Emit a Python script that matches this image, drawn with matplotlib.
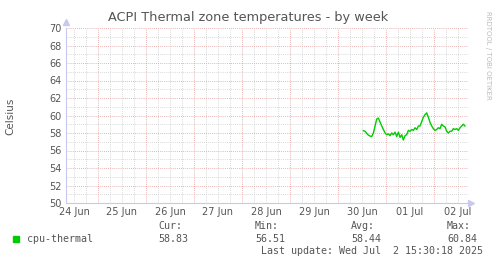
import numpy as np
import matplotlib
matplotlib.use("Agg")
from matplotlib import pyplot as plt

W, H = 497, 264

# hours since 24 Jun 00:00
x_min, x_max = 8, 209
y_min, y_max = 50, 70
day_labels = ['24 Jun', '25 Jun', '26 Jun', '27 Jun', '28 Jun', '29 Jun', '30 Jun', '01 Jul', '02 Jul']
y_ticks = [50, 52, 54, 56, 58, 60, 62, 64, 66, 68, 70]

temps = [58.27, 58.2, 57.95, 57.75, 57.65, 57.6, 58.0, 58.8, 59.6, 59.7,
         59.25, 58.8, 58.4, 58.0, 57.8, 57.9, 57.7, 58.0, 57.8, 58.1,
         57.6, 58.1, 57.5, 57.8, 57.2, 57.7, 57.8, 58.3, 58.2, 58.4,
         58.3, 58.6, 58.4, 58.8, 58.8, 59.3, 59.8, 60.1, 60.3, 59.8,
         59.2, 58.8, 58.5, 58.3, 58.4, 58.6, 58.5, 59.0, 58.8, 58.7,
         58.2, 58.0, 58.2, 58.2, 58.5, 58.4, 58.5, 58.3, 58.6, 58.8,
         59.0, 58.8]
hours = np.linspace(156.7, 207.5, len(temps))

legend_name = 'cpu-thermal'
stats = [('Cur:', '58.83'), ('Min:', '56.51'), ('Avg:', '58.44'), ('Max:', '60.84')]
last_update = 'Last update: Wed Jul  2 15:30:18 2025'

text_col = '#555555'
axis_col = '#c8c8f0'

fig = plt.figure(figsize=(W / 100, H / 100), dpi=100)
fig.patch.set_facecolor('white')
ax = fig.add_axes([66 / W, (H - 203) / H, (468 - 66) / W, (203 - 28) / H])
ax.set_xlim(x_min, x_max)
ax.set_ylim(y_min, y_max)

# grid: 6h minor, 24h major; 1 unit minor, 2 units major
for h in range(12, x_max, 6):
    major = h % 24 == 0
    ax.axvline(h, color='#e39a9a' if major else '#cccccc', lw=0.6,
               ls=(0, (1, 1.5)), zorder=1 if major else 0)
for v in range(y_min + 1, y_max + 1):
    major = v % 2 == 0
    ax.axhline(v, color='#e39a9a' if major else '#cccccc', lw=0.6,
               ls=(0, (1, 1.5)), zorder=1 if major else 0)

ax.plot(hours, temps, color='#00cc00', lw=1.0, zorder=3)

for s in ['top', 'right']:
    ax.spines[s].set_visible(False)
for s in ['left', 'bottom']:
    ax.spines[s].set_color(axis_col)
    ax.spines[s].set_linewidth(0.8)

ax.set_yticks(y_ticks)
ax.set_yticklabels([str(t) for t in y_ticks])
ax.set_xticks([12 + 24 * i for i in range(len(day_labels))])
ax.set_xticklabels(day_labels)
ax.tick_params(length=0, labelsize=7, colors=text_col, pad=3)

# axis arrows
ax.plot([x_min], [y_max + 0.7], marker='^', color=axis_col, ms=4, clip_on=False)
ax.plot([x_max + 1.5], [y_min], marker='>', color=axis_col, ms=4, clip_on=False)

fig.text(248 / W, 1 - 18 / H, 'ACPI Thermal zone temperatures - by week',
         ha='center', va='center', fontsize=9.3, color=text_col)
fig.text(10 / W, 1 - 116 / H, 'Celsius', rotation=90, ha='center', va='center',
         fontsize=7.5, color=text_col)
fig.text(488 / W, 1 - 55 / H, 'RRDTOOL / TOBI OETIKER', rotation=270, ha='center',
         va='center', fontsize=5, color='#bbbbbb')

mono = 'DejaVu Sans Mono'
fig.patches.append(plt.Rectangle((13 / W, 1 - 242 / H), 6 / W, 6 / H,
                                 transform=fig.transFigure, color='#00cc00'))
fig.text(27 / W, 1 - 239 / H, legend_name, family=mono, fontsize=7.2,
         color=text_col, va='center')
for (lab, val), xp in zip(stats, [158, 255, 351, 447]):
    fig.text(xp / W, 1 - 226 / H, lab, family=mono, fontsize=7.2, color=text_col, va='center')
    fig.text(xp / W, 1 - 239 / H, val, family=mono, fontsize=7.2, color=text_col, va='center')
fig.text(483 / W, 1 - 251 / H, last_update, family=mono, fontsize=7.2,
         color=text_col, va='center', ha='right')

fig.savefig('out.png', dpi=100)
